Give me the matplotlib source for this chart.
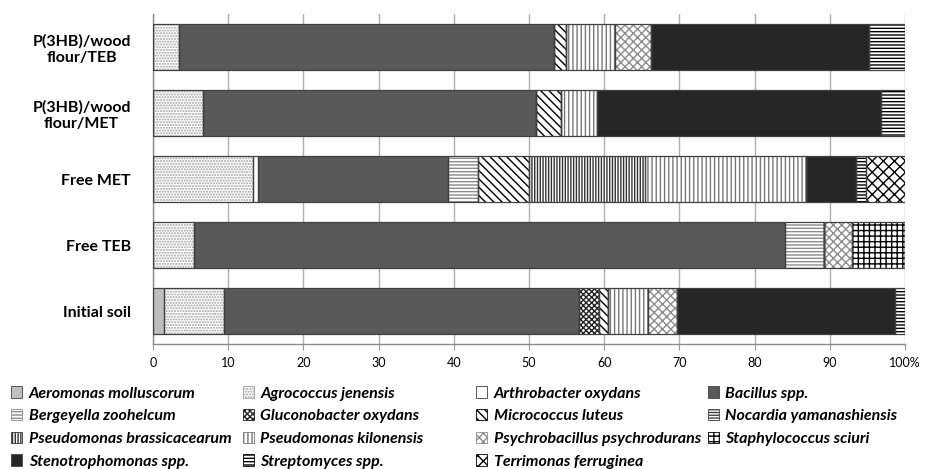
import matplotlib

matplotlib.use("Agg")
import matplotlib.pyplot as plt
from matplotlib.patches import Patch
import numpy as np

# stacked bars, bottom to top
samples = ["Initial soil", "Free TEB", "Free MET", "P(3HB)/wood\nflour/MET", "P(3HB)/wood\nflour/TEB"]

species = [
    "Aeromonas molluscorum", "Agrococcus jenensis", "Arthrobacter oxydans", "Bacillus spp.",
    "Bergeyella zoohelcum", "Gluconobacter oxydans", "Micrococcus luteus", "Nocardia yamanashiensis",
    "Pseudomonas brassicacearum", "Pseudomonas kilonensis", "Psychrobacillus psychrodurans",
    "Staphylococcus sciuri", "Stenotrophomonas spp.", "Streptomyces spp.", "Terrimonas ferruginea",
]

# share (%) of each species per sample, same order as samples
aeromonas = [1.4, 0, 0, 0, 0]
agrococcus = [8.0, 5.4, 13.3, 6.7, 3.4]
arthrobacter = [0, 0, 0.7, 0, 0]
bacillus = [47.2, 78.6, 25.3, 44.2, 49.9]
bergeyella = [0, 5.3, 3.9, 0, 0]
gluconobacter = [2.7, 0, 0, 0, 0]
micrococcus = [1.2, 0, 6.8, 3.3, 1.6]
nocardia = [0, 0, 0, 0, 0]
ps_brassicacearum = [0, 0, 15.5, 0, 0]
ps_kilonensis = [5.3, 0, 21.4, 4.9, 6.5]
psychrobacillus = [3.9, 3.6, 0, 0, 4.8]
staphylococcus = [0, 7.1, 0, 0, 0]
stenotrophomonas = [29.0, 0, 6.6, 37.7, 29.0]
streptomyces = [1.3, 0, 1.3, 3.2, 4.8]
terrimonas = [0, 0, 5.2, 0, 0]

values = [aeromonas, agrococcus, arthrobacter, bacillus, bergeyella, gluconobacter, micrococcus,
          nocardia, ps_brassicacearum, ps_kilonensis, psychrobacillus, staphylococcus,
          stenotrophomonas, streptomyces, terrimonas]

# (face colour, hatch, hatch colour)
styles = [
    ("#BFBFBF", None, None),
    ("white", "......", "#a0a0a0"),
    ("white", None, None),
    ("#595959", None, None),
    ("white", "-----", "#8c8c8c"),
    ("white", "xxxxxx", "#222222"),
    ("white", "\\\\\\\\", "black"),
    ("white", "------", "#444444"),
    ("white", "||||||", "#333333"),
    ("white", "||||", "#777777"),
    ("white", "xxxx", "#8c8c8c"),
    ("white", "+++", "black"),
    ("#262626", None, None),
    ("white", "-----", "black"),
    ("white", "XXX", "black"),
]

plt.rcParams["hatch.linewidth"] = 1.0
plt.rcParams["font.family"] = ["Lato", "DejaVu Sans"]

fig = plt.figure(figsize=(9.3, 4.69), dpi=100)
ax = fig.add_axes([0.1645, 0.2665, 0.8085, 0.7035])

y = np.arange(len(samples))
left = np.zeros(len(samples))
handles = []
for name, vals, (face, hatch, hcol) in zip(species, values, styles):
    vals = np.array(vals, dtype=float)
    ax.barh(y, vals, left=left, height=0.71, color=face, hatch=hatch,
            edgecolor=hcol if hatch else face, linewidth=0, zorder=2)
    ax.barh(y, vals, left=left, height=0.71, fill=False, edgecolor="#404040",
            linewidth=0.9, zorder=3)
    handles.append(Patch(facecolor=face, hatch=hatch, edgecolor=hcol if hatch else "#404040",
                         linewidth=0.6, label=name))
    left += vals

ax.set_xlim(0, 100)
ax.set_ylim(-0.5, len(samples) - 0.5)
ax.set_xticks(range(0, 101, 10))
ax.set_xticklabels([str(v) for v in range(0, 100, 10)] + ["100%"], fontsize=9)
ax.set_yticks(y)
ax.set_yticklabels(samples, fontsize=11.5, fontweight="bold", multialignment="center")
ax.tick_params(axis="y", length=0, pad=16)
ax.tick_params(axis="x", length=4, color="#9a9a9a", pad=5)
ax.grid(axis="x", color="#b0b0b0", linewidth=1.0, zorder=0)
ax.set_axisbelow(True)
for side in ["top", "right"]:
    ax.spines[side].set_visible(False)
for side in ["left", "bottom"]:
    ax.spines[side].set_color("#8c8c8c")
    ax.spines[side].set_linewidth(1.0)

# legend laid out row by row in four evenly spaced columns
col_x = [0.012, 0.261, 0.512, 0.761]
for c in range(4):
    col_handles = handles[c::4]
    fig.legend(handles=col_handles, loc="upper left", bbox_to_anchor=(col_x[c], 0.176),
               frameon=False, ncol=1, handlelength=0.7, handleheight=0.7, handletextpad=0.4,
               labelspacing=0.53, borderpad=0, borderaxespad=0,
               prop={"family": ["Lato", "DejaVu Sans"], "weight": "bold", "style": "italic", "size": 11.5})

fig.savefig("out.png", dpi=100)
